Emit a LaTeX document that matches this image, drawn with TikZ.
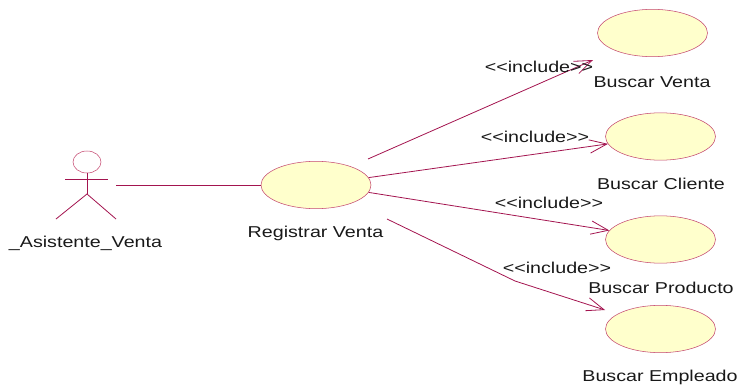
\documentclass[tikz,border=0pt]{standalone}
\usepackage{fontspec}
\setmainfont[FakeStretch=1.25]{Liberation Sans}
\usetikzlibrary{arrows.meta}
\usetikzlibrary{shapes.geometric}
\definecolor{umlline}{HTML}{A3144F}
\definecolor{umlborder}{HTML}{C4476F}
\definecolor{umlfill}{HTML}{FFFFCC}
\tikzset{usecase/.style={draw=umlborder, fill=umlfill, ellipse, inner sep=0pt, minimum width=82.5pt, minimum height=35.5pt},
 head/.style={draw=umlborder, ellipse, inner sep=0pt, minimum width=21pt, minimum height=16.5pt},
 label/.style={text=black!90, inner sep=0pt, font=\fontsize{11.8}{13}\selectfont},
 link/.style={draw=umlline, line width=.6pt},
 include/.style={link, -{Straight Barb[length=13pt, width=10pt, line width=.6pt]}},
 }

\begin{document}
\begin{tikzpicture}[x=.75pt, y=-.75pt]
        \useasboundingbox (0, 0) rectangle (739, 389);
        \node[usecase] (registrar) at (316, 185) {};
        \node[usecase] (venta) at (652.5, 33) {};
        \node[usecase] (cliente) at (660.5, 136.5) {};
        \node[usecase] (producto) at (660.5, 239.5) {};
        \node[usecase] (empleado) at (660.5, 329) {};
        \node[head] (asistente) at (87, 162) {};
        % actor
        \coordinate (hip) at (87, 194);
        \coordinate (armL) at (65, 179);
        \coordinate (armR) at (108, 179);
        \coordinate (legL) at (56, 219);
        \coordinate (legR) at (116, 219);
        \coordinate (hand) at (116, 185);
        \draw[link] (asistente.south) -- (hip);
        \draw[link] (armL) -- (armR);
        \draw[link] (legL) -- (hip) -- (legR);
        \draw[link] (hand) -- (registrar.west);
        % include arrows
        \coordinate (fromVenta) at (368, 159);
        \coordinate (toVenta) at (593, 60);
        \coordinate (fromEmpleado) at (387, 219);
        \coordinate (bend) at (515, 281);
        \coordinate (toEmpleado) at (605, 310);
        \draw[include] (fromVenta) -- (toVenta);
        \draw[include] (registrar.8) -- (cliente.188);
        \draw[include] (registrar.-8) -- (producto.170);
        \draw[include] (fromEmpleado) -- (bend) -- (toEmpleado);
        % texts
        \node[label] (incVenta) at (539, 67) {<{}<include>{}>};
        \node[label] (incCliente) at (535, 137) {<{}<include>{}>};
        \node[label] (incProducto) at (549, 203) {<{}<include>{}>};
        \node[label] (incEmpleado) at (557, 268) {<{}<include>{}>};
        \node[label] (txtVenta) at (652, 82) {Buscar Venta};
        \node[label] (txtCliente) at (661, 184) {Buscar Cliente};
        \node[label] (txtProducto) at (661, 288) {Buscar Producto};
        \node[label] (txtEmpleado) at (660, 377) {Buscar Empleado};
        \node[label] (txtRegistrar) at (315.5, 233) {Registrar Venta};
        \node[label] (txtAsistente) at (85.5, 243) {\_Asistente\_Venta};
    \end{tikzpicture}
\end{document}
